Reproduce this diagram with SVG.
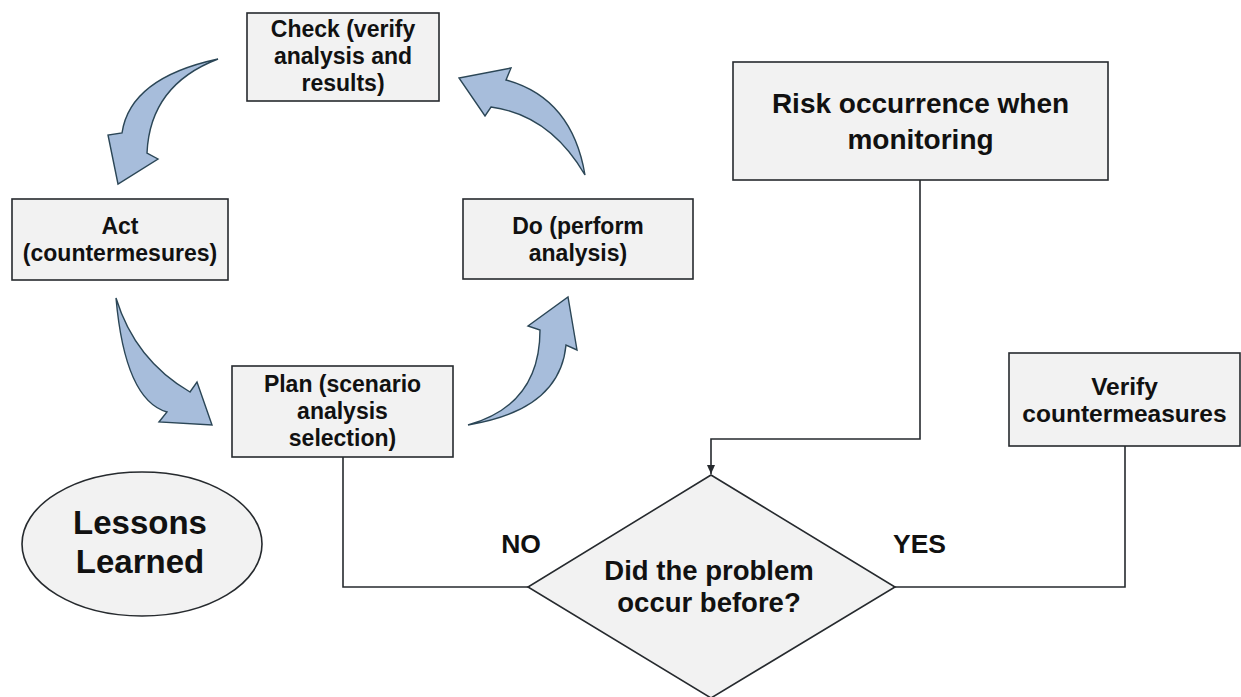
<svg xmlns="http://www.w3.org/2000/svg" width="1241" height="697" viewBox="0 0 1241 697">
<defs>
<style>
.box{fill:#f2f2f2;stroke:#262a2e;stroke-width:1.6}
.t{font-family:"Liberation Sans",Arial,sans-serif;font-weight:bold;fill:#111;text-anchor:middle}
.ca{fill:#a7bddb;stroke:#2b4656;stroke-width:1.4;stroke-linejoin:miter}
.ln{fill:none;stroke:#262a2e;stroke-width:1.6}
</style>
<marker id="ah" markerWidth="10" markerHeight="10" refX="9" refY="5" orient="auto" markerUnits="userSpaceOnUse">
<path d="M0,1 L9,5 L0,9 Z" fill="#262a2e"/>
</marker>
</defs>
<rect width="1241" height="697" fill="#ffffff"/>

<g id="connectors">
<path class="ln" d="M343,457 V587 H528"/>
<path class="ln" d="M1125,446 V587 H895"/>
<path class="ln" d="M920,180 V439 H711 V474" marker-end="url(#ah)"/>
<path id="arrow-check-act" class="ca" d="M218,59 Q130,78 122,133 L108,135 L118,184 L158,159 L147,153 Q150,85 218,59 Z"/>
<path id="arrow-act-plan" class="ca" d="M116,298 Q135,360 190,392 L197,382 L212,425 L159,422 L167,412 Q125,400 116,298 Z"/>
<path id="arrow-plan-do" class="ca" d="M468,425 Q540,405 540,330 L528,326 L568,297 L577,350 L566,345 Q560,410 468,425 Z"/>
<path id="arrow-do-check" class="ca" d="M585,175 Q572,98 506,80 L511,68 L459,78 L485,116 L491,107 Q550,115 585,175 Z"/>
</g>

<g id="check">
<rect class="box" x="247" y="13" width="192" height="88"/>
<text class="t" font-size="23" x="343" y="37">Check (verify</text>
<text class="t" font-size="23" x="343" y="64">analysis and</text>
<text class="t" font-size="23" x="343" y="91">results)</text>
</g>

<g id="act">
<rect class="box" x="12" y="199" width="216" height="81"/>
<text class="t" font-size="23" x="120" y="234">Act</text>
<text class="t" font-size="23" x="120" y="261">(countermesures)</text>
</g>

<g id="do">
<rect class="box" x="463" y="199" width="230" height="80"/>
<text class="t" font-size="23" x="578" y="234">Do (perform</text>
<text class="t" font-size="23" x="578" y="261">analysis)</text>
</g>

<g id="plan">
<rect class="box" x="232" y="366" width="221" height="91"/>
<text class="t" font-size="23" x="342.5" y="392">Plan (scenario</text>
<text class="t" font-size="23" x="342.5" y="419">analysis</text>
<text class="t" font-size="23" x="342.5" y="446">selection)</text>
</g>

<g id="risk">
<rect class="box" x="733" y="62" width="375" height="118"/>
<text class="t" font-size="28" x="920.5" y="113">Risk occurrence when</text>
<text class="t" font-size="28" x="920.5" y="149">monitoring</text>
</g>

<g id="verify">
<rect class="box" x="1009" y="353" width="231" height="93"/>
<text class="t" font-size="24.5" x="1124.5" y="395">Verify</text>
<text class="t" font-size="24.5" x="1124.5" y="422">countermeasures</text>
</g>

<g id="decision">
<polygon class="box" points="711,475 895,587 711,698 528,587"/>
<text class="t" font-size="27.5" x="709" y="580">Did the problem</text>
<text class="t" font-size="27.5" x="709" y="612">occur before?</text>
</g>

<g id="label-no">
<text class="t" font-size="26.5" x="521" y="553">NO</text>
</g>
<g id="label-yes">
<text class="t" font-size="26.5" x="919.5" y="553">YES</text>
</g>

<g id="lessons">
<ellipse class="box" cx="142" cy="544" rx="120" ry="72"/>
<text class="t" font-size="33" x="140" y="534">Lessons</text>
<text class="t" font-size="33" x="140" y="573">Learned</text>
</g>
</svg>
